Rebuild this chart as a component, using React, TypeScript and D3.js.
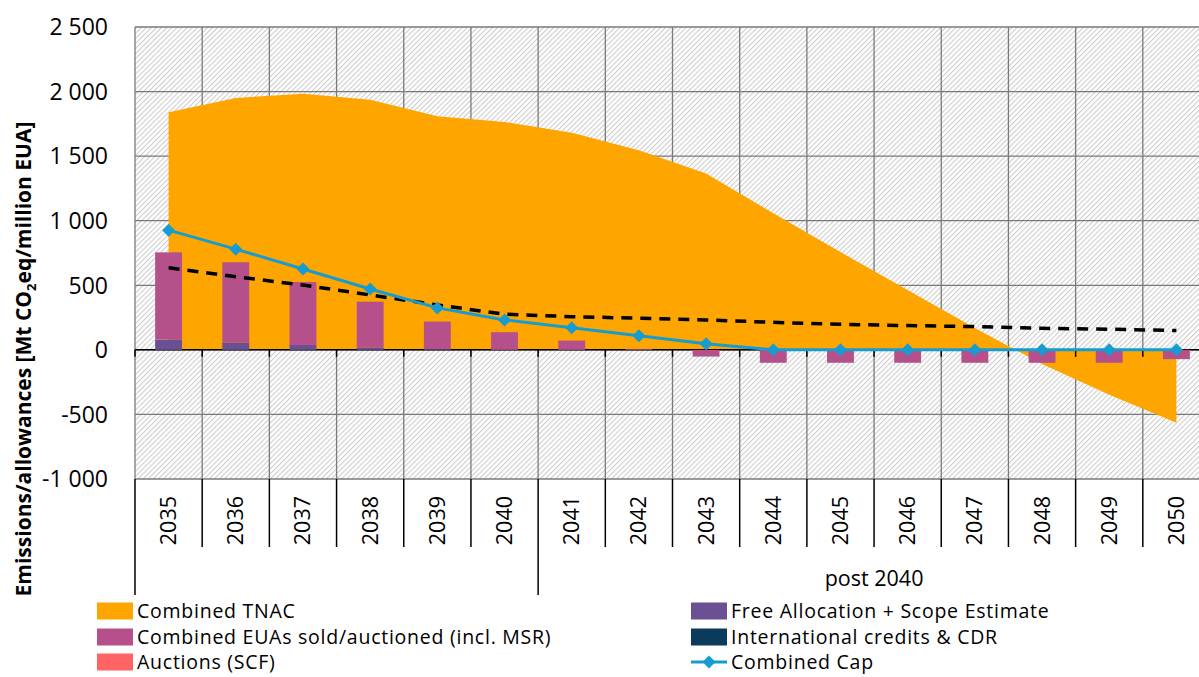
import React from "react";
import * as d3 from "d3";

const years = ["2035","2036","2037","2038","2039","2040","2041","2042","2043","2044","2045","2046","2047","2048","2049","2050"];
const groups = [
  { label: "", from: "2035", to: "2040" },
  { label: "post 2040", from: "2041", to: "2050" },
];
const tnac = [1840, 1950, 1983, 1937, 1808, 1764, 1682, 1545, 1366, 1058, 757, 464, 170, -110, -348, -565];
const freeAlloc = [80, 57, 38, 18, 5, 0, 0, 0, 0, 0, 0, 0, 0, 0, 0, 0];
const euasSold = [675, 621, 487, 355, 214, 137, 72, 6, -52, -100, -100, -100, -100, -100, -100, -72];
const cap = [927, 780, 626, 471, 325, 232, 172, 110, 48, 0, 0, 0, 0, 0, 0, 0];
const emissions = [636, 566, 502, 425, 348, 276, 257, 245, 232, 213, 198, 188, 180, 167, 160, 150];
const yTicks = [-1000, -500, 0, 500, 1000, 1500, 2000, 2500];
const yTickLabels = ["-1 000", "-500", "0", "500", "1 000", "1 500", "2 000", "2 500"];

const C = {
  tnac: "#FFA500",
  eua: "#B5508A",
  scf: "#FF6464",
  free: "#6A4F93",
  intl: "#0B3A5A",
  cap: "#169CD0",
};

const FONT = "'Open Sans', sans-serif";

export default function App() {
  const W = 1199, H = 677;
  const left = 135, right = 1210, top = 27, bottom = 479;
  const x = d3.scaleBand<string>().domain(years).range([left, right]).padding(0);
  const y = d3.scaleLinear().domain([-1000, 2500]).range([bottom, top]);
  const bw = x.bandwidth();
  const cx = (yr: string) => (x(yr) as number) + bw / 2;
  const barW = bw * 0.4;

  const area = d3.area<number>()
    .x((_, i) => cx(years[i]))
    .y0(y(0))
    .y1((d) => y(d));
  const capLine = d3.line<number>().x((_, i) => cx(years[i])).y((d) => y(d));
  const emLine = d3.line<number>().x((_, i) => cx(years[i])).y((d) => y(d));

  const boundaries = years.map((yr) => x(yr) as number).concat([right]);
  const diamond = (px: number, py: number, r: number) =>
    `M${px},${py - r}L${px + r},${py}L${px},${py + r}L${px - r},${py}Z`;

  const legendLeft = [
    { label: "Combined TNAC", color: C.tnac },
    { label: "Combined EUAs sold/auctioned (incl. MSR)", color: C.eua },
    { label: "Auctions (SCF)", color: C.scf },
  ];
  const legendRight = [
    { label: "Free Allocation + Scope Estimate", color: C.free, type: "rect" },
    { label: "International credits & CDR", color: C.intl, type: "rect" },
    { label: "Combined Cap", color: C.cap, type: "line" },
  ];
  const legendRows = [611, 637, 662];
  const legendFont = 19.5;
  const legendSpacing = 0.75;

  return (
    <svg width={W} height={H} style={{ position: "absolute", left: 0, top: 0, background: "#fff" }} fontFamily={FONT}>
      <defs>
        <pattern id="hatch" width="3.6" height="3.6" patternUnits="userSpaceOnUse" patternTransform="rotate(45)">
          <rect x="0" y="0" width="3.6" height="3.6" fill="#ffffff" />
          <rect x="0" y="0" width="1.1" height="3.6" fill="#cdcdcd" />
        </pattern>
      </defs>
      {/* plot background */}
      <rect x={left} y={top} width={right - left} height={bottom - top} fill="url(#hatch)" />
      {/* gridlines */}
      {yTicks.map((t) => (
        <line key={"h" + t} x1={left} x2={right} y1={y(t)} y2={y(t)} stroke="#7a7a7a" strokeWidth={1.3} />
      ))}
      {boundaries.map((b, i) => (
        <line key={"v" + i} x1={b} x2={b} y1={top} y2={bottom} stroke="#7a7a7a" strokeWidth={1.3} />
      ))}
      {/* TNAC area */}
      <path d={area(tnac) || ""} fill={C.tnac} />
      {/* zero axis */}
      <line x1={left} x2={right} y1={y(0)} y2={y(0)} stroke="#000" strokeWidth={1.5} />
      {boundaries.map((b, i) => (
        <line key={"zt" + i} x1={b} x2={b} y1={y(0)} y2={y(0) + 7} stroke="#000" strokeWidth={1.5} />
      ))}
      {/* bars */}
      {years.map((yr, i) => {
        const f = freeAlloc[i];
        const e = euasSold[i];
        const bx = cx(yr) - barW / 2;
        const out: React.ReactNode[] = [];
        if (f > 0) out.push(<rect key={"f" + yr} x={bx} y={y(f)} width={barW} height={y(0) - y(f)} fill={C.free} />);
        if (e > 0) out.push(<rect key={"e" + yr} x={bx} y={y(f + e)} width={barW} height={y(f) - y(f + e)} fill={C.eua} />);
        if (e < 0) out.push(<rect key={"e" + yr} x={bx} y={y(0)} width={barW} height={y(e) - y(0)} fill={C.eua} />);
        return out;
      })}
      {/* emissions dashed */}
      <path d={emLine(emissions) || ""} fill="none" stroke="#000" strokeWidth={3.5} strokeDasharray="11 8" />
      {/* cap line */}
      <path d={capLine(cap) || ""} fill="none" stroke={C.cap} strokeWidth={3} />
      {cap.map((v, i) => (
        <path key={"cm" + i} d={diamond(cx(years[i]), y(v), 6.5)} fill={C.cap} />
      ))}
      {/* y tick labels */}
      {yTicks.map((t, i) => (
        <text key={"yl" + t} x={108} y={y(t)} dy="0.36em" textAnchor="end" fontSize={23} fill="#000">
          {yTickLabels[i]}
        </text>
      ))}
      {/* y title */}
      <text transform={`translate(31,${359}) rotate(-90)`} textAnchor="middle" fontSize={21} fontWeight="bold" fill="#000">
        Emissions/allowances [Mt CO<tspan fontSize={13} dy={5}>2</tspan><tspan dy={-5}>eq/million EUA]</tspan>
      </text>
      {/* category axis */}
      {boundaries.map((b, i) => {
        const isGroup = groups.some((g) => (x(g.from) as number) === b) || i === boundaries.length - 1;
        return <line key={"ct" + i} x1={b} x2={b} y1={bottom} y2={isGroup ? 595 : 547} stroke="#000" strokeWidth={1.5} />;
      })}
      {years.map((yr) => (
        <text key={"xl" + yr} transform={`translate(${cx(yr) + 7.5},${496}) rotate(-90)`} textAnchor="end" fontSize={21.5} fill="#000">
          {yr}
        </text>
      ))}
      {groups.map((g) => {
        const gx = ((x(g.from) as number) + (x(g.to) as number) + bw) / 2;
        return (
          <text key={"g" + g.from} x={gx} y={586} textAnchor="middle" fontSize={21.5} fill="#000">
            {g.label}
          </text>
        );
      })}
      {/* legend */}
      {legendLeft.map((l, i) => (
        <g key={"ll" + i}>
          <rect x={97} y={legendRows[i] - 8.5} width={36} height={17} fill={l.color} />
          <text x={137} y={legendRows[i]} dy="0.36em" fontSize={legendFont} letterSpacing={legendSpacing} fill="#000">{l.label}</text>
        </g>
      ))}
      {legendRight.map((l, i) => (
        <g key={"lr" + i}>
          {l.type === "rect" ? (
            <rect x={691} y={legendRows[i] - 8.5} width={36} height={17} fill={l.color} />
          ) : (
            <g>
              <line x1={691} x2={727} y1={legendRows[i]} y2={legendRows[i]} stroke={l.color} strokeWidth={3} />
              <path d={diamond(709, legendRows[i], 6.5)} fill={l.color} />
            </g>
          )}
          <text x={731} y={legendRows[i]} dy="0.36em" fontSize={legendFont} letterSpacing={legendSpacing} fill="#000">{l.label}</text>
        </g>
      ))}
    </svg>
  );
}
